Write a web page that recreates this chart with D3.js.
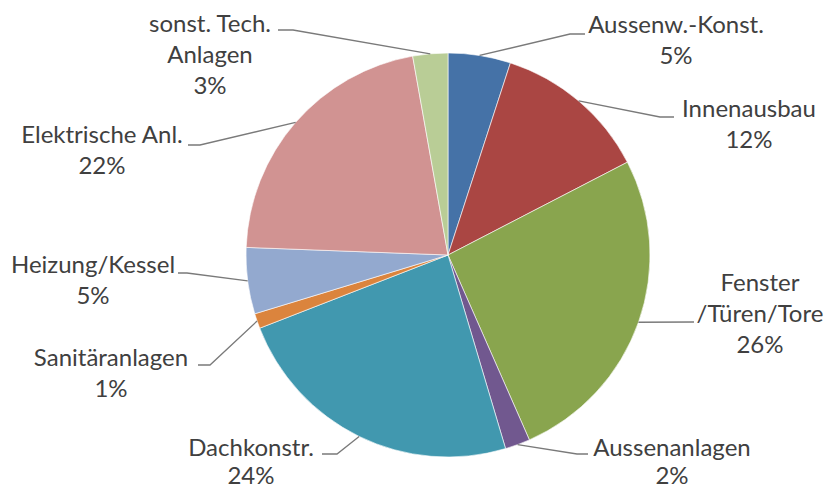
<!DOCTYPE html>
<html><head><meta charset="utf-8">
<script src="https://cdn.jsdelivr.net/npm/d3@7"></script>
<style>
html,body{margin:0;padding:0;background:#fff;}
svg{display:block;}
</style>
</head><body>
<svg id="chart" width="832" height="490"></svg>
<script>
// ---- data ----
const categories = ["Aussenw.-Konst.", "Innenausbau", "Fenster\n/Türen/Tore", "Aussenanlagen", "Dachkonstr.", "Sanitäranlagen", "Heizung/Kessel", "Elektrische Anl.", "sonst. Tech.\nAnlagen"];
const values = [5.0, 12.4, 26.0, 2.0, 23.7, 1.2, 5.3, 21.6, 2.8];
const colors = ["#4572a7", "#aa4643", "#89a54e", "#71588f", "#4198af", "#db843d", "#93a9cf", "#d19392", "#b9cd96"];

// ---- layout (label anchors: x centre, first baseline; leader bend; line step) ----
const labelLayout = [
  {x: 676, y: 33,  bend: [570, 34], end: [585, 34], step: 31},
  {x: 749, y: 117, bend: [660, 117], end: [674, 117], step: 31},
  {x: 760, y: 291, bend: [694, 322], end: [694, 322], step: 31},
  {x: 672, y: 456, bend: [577, 454], end: [588, 454], step: 28},
  {x: 251, y: 456, bend: [337, 454], end: [322, 454], step: 28},
  {x: 111, y: 366, bend: [210, 365], end: [198, 365], step: 31},
  {x: 93,  y: 273, bend: [187, 273], end: [178, 273], step: 31},
  {x: 102, y: 143, bend: [200, 145], end: [188, 145], step: 31},
  {x: 210, y: 32,  bend: [293, 30], end: [278, 30], step: 31}
];

const cx = 448, cy = 255, R = 202;
const fontSize = 24;

const svg = d3.select("#chart");
const g = svg.append("g").attr("transform", `translate(${cx},${cy})`);

const data = categories.map((c, i) => ({name: c, value: values[i], color: colors[i], i}));
const pie = d3.pie().value(d => d.value).sort(null);
const arcs = pie(data);
const arc = d3.arc().innerRadius(0).outerRadius(R);

g.selectAll("path.slice").data(arcs).enter().append("path")
  .attr("class", "slice")
  .attr("d", arc)
  .attr("fill", d => d.data.color)
  .attr("stroke", "#ffffff")
  .attr("stroke-width", 0.6);

// leader lines
const edgeArc = d3.arc().innerRadius(R).outerRadius(R);
svg.append("g").selectAll("polyline").data(arcs).enter().append("polyline")
  .attr("points", d => {
    const p = edgeArc.centroid(d);
    const L = labelLayout[d.index];
    return [[cx + p[0], cy + p[1]], L.bend, L.end].map(q => q.join(",")).join(" ");
  })
  .attr("fill", "none")
  .attr("stroke", "#7a7a7a")
  .attr("stroke-width", 1.3);

// labels
const lbl = svg.append("g")
  .attr("font-family", "Lato, 'Open Sans', sans-serif")
  .attr("font-size", fontSize)
  .attr("fill", "#404040")
  .attr("text-anchor", "middle");

arcs.forEach(d => {
  const L = labelLayout[d.index];
  const lines = d.data.name.split("\n").concat([Math.round(d.data.value) + "%"]);
  const t = lbl.append("text").attr("x", L.x).attr("y", L.y);
  lines.forEach((s, k) => {
    t.append("tspan").attr("x", L.x).attr("y", L.y + k * L.step).text(s);
  });
});
</script>
</body></html>
